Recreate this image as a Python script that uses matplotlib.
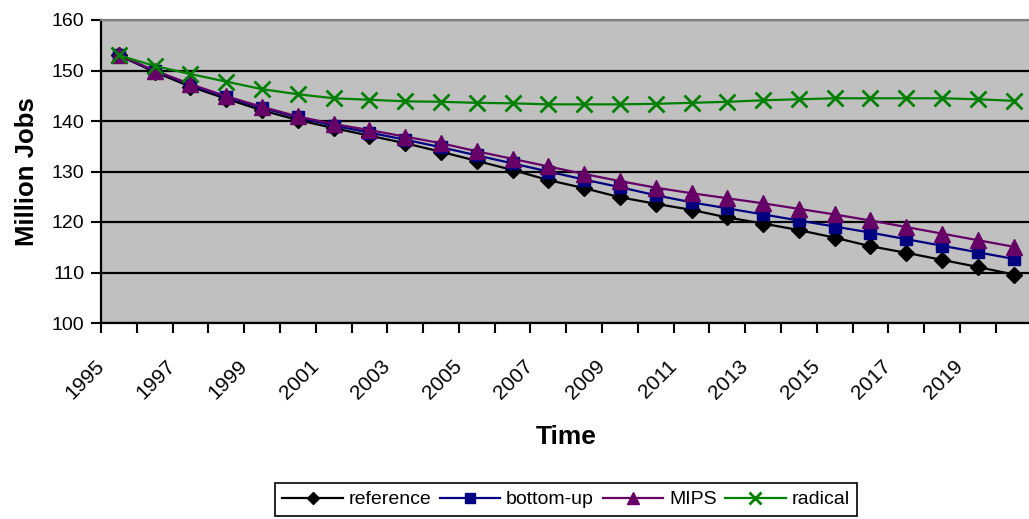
import numpy as np
import matplotlib
matplotlib.use('Agg')
from matplotlib import pyplot as plt

# employment scenarios, million jobs per year
years = list(range(1995, 2021))
reference = [153.0, 149.7, 146.8, 144.4, 142.1, 140.2, 138.6, 137.1, 135.6, 133.9,
             132.1, 130.3, 128.3, 126.7, 124.9, 123.6, 122.4, 120.9, 119.7, 118.4,
             116.9, 115.2, 113.9, 112.5, 111.1, 109.6]
bottom_up = [153.0, 149.9, 147.1, 144.7, 142.6, 140.7, 139.1, 137.7, 136.3, 134.8,
             133.2, 131.6, 130.0, 128.4, 126.9, 125.3, 123.9, 122.7, 121.5, 120.3,
             119.1, 117.9, 116.6, 115.3, 114.0, 112.7]
mips = [153.0, 150.0, 147.3, 144.9, 142.8, 140.9, 139.4, 138.2, 136.9, 135.6,
        134.0, 132.5, 131.0, 129.5, 128.1, 126.8, 125.7, 124.7, 123.7, 122.6,
        121.5, 120.3, 119.0, 117.7, 116.4, 115.1]
radical = [153.0, 150.9, 149.3, 147.8, 146.3, 145.3, 144.5, 144.2, 143.9, 143.8,
           143.6, 143.5, 143.3, 143.3, 143.3, 143.4, 143.6, 143.8, 144.1, 144.3,
           144.5, 144.5, 144.5, 144.5, 144.3, 144.0]

plt.rcParams['font.family'] = ['Liberation Sans', 'DejaVu Sans']

fig = plt.figure(figsize=(10.29, 5.19), dpi=100)
# plot area runs a little past the right edge of the figure
ax = fig.add_axes([101/1029, 1 - 323/519, 930.5/1029, 303/519])
ax.set_facecolor('#c0c0c0')

x = np.arange(len(years))
ax.plot(x, reference, color='black', marker='D', ms=8, lw=1.6, label='reference', zorder=3)
ax.plot(x, bottom_up, color='#000080', marker='s', ms=9, lw=1.6, label='bottom-up', zorder=4)
ax.plot(x, mips, color='#660066', marker='^', ms=11, lw=1.6, label='MIPS', zorder=5)
ax.plot(x, radical, color='#008000', marker='x', ms=11, mew=2, lw=1.6, label='radical', zorder=6)

ax.set_xlim(-0.5, len(years) - 0.5)
ax.set_ylim(100, 160)
ax.set_yticks(range(100, 161, 10))
ax.yaxis.grid(True, color='black', lw=1.6)
ax.set_axisbelow(True)

# category axis: ticks between categories, every other year labelled
bounds = np.arange(len(years) + 1) - 0.5
ax.set_xticks(bounds)
xlabels = []
for k in range(len(bounds)):
    if k % 2 == 0 and k < len(years):
        xlabels.append(str(years[k]))
    else:
        xlabels.append('')
ax.set_xticklabels(xlabels, rotation=45, ha='right', va='center', rotation_mode='anchor')

ax.tick_params(axis='x', direction='out', length=7, width=1.5, color='black',
               labelsize=15, pad=22)
ax.tick_params(axis='y', direction='out', length=7, width=1.5, color='black',
               labelsize=14, pad=5)

for side in ['left', 'bottom']:
    ax.spines[side].set_color('black')
    ax.spines[side].set_linewidth(1.6)
ax.spines['top'].set_color('#808080')
ax.spines['top'].set_linewidth(1.6)
ax.spines['right'].set_visible(False)

ax.set_ylabel('Million Jobs', fontsize=18.5, fontweight='bold', labelpad=9)
fig.text(566/1029, 1 - 437/519, 'Time', fontsize=19, fontweight='bold',
         ha='center', va='center')

leg = fig.legend(loc='upper center', bbox_to_anchor=(566/1029, 1 - 483/519), ncol=4,
                 frameon=True, fancybox=False, edgecolor='black', framealpha=1,
                 fontsize=14, handlelength=3.1, handletextpad=0.3,
                 columnspacing=0.45, borderpad=0.4, borderaxespad=0, markerscale=0.8)
leg.get_frame().set_linewidth(1.2)

fig.savefig('out.png', dpi=100)
